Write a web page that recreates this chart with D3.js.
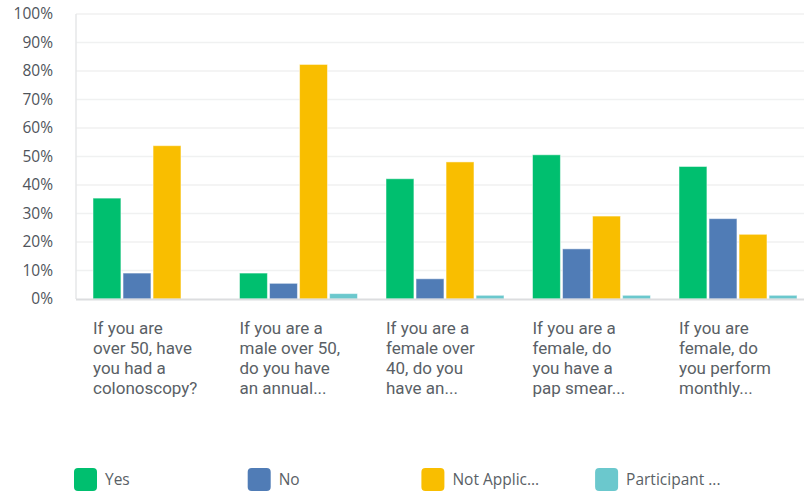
<!DOCTYPE html>
<html>
<head>
<meta charset="utf-8">
<script src="https://cdn.jsdelivr.net/npm/d3@7"></script>
<style>
  html, body { margin: 0; padding: 0; background: #fff; }
  svg { display: block; font-family: "Open Sans", sans-serif; }
</style>
</head>
<body>
<svg id="chart" width="804" height="494"></svg>
<script>
const categories = [
  ["If you are", "over 50, have", "you had a", "colonoscopy?"],
  ["If you are a", "male over 50,", "do you have", "an annual..."],
  ["If you are a", "female over", "40, do you", "have an..."],
  ["If you are a", "female, do", "you have a", "pap smear..."],
  ["If you are", "female, do", "you perform", "monthly..."]
];
const seriesNames = ["Yes", "No", "Not Applic...", "Participant ..."];
const yesValues = [35.4, 9.1, 42.2, 50.6, 46.5];
const noValues = [9.1, 5.5, 7.1, 17.6, 28.2];
const naValues = [53.8, 82.3, 48.1, 29.1, 22.7];
const participantValues = [0, 1.9, 1.3, 1.3, 1.3];
const yTicks = [0, 10, 20, 30, 40, 50, 60, 70, 80, 90, 100];
const colors = ["#00BF6F", "#507CB6", "#F9BE00", "#6BC8CD"];

const seriesValues = [yesValues, noValues, naValues, participantValues];

const svg = d3.select("#chart");
const plotLeft = 76, plotTop = 14, plotBottom = 299, plotRight = 804;

const x0 = d3.scaleBand()
  .domain(d3.range(categories.length))
  .range([plotLeft, plotLeft + 5 * 146.5])
  .paddingInner(0).paddingOuter(0);

const x1 = d3.scaleBand()
  .domain(d3.range(seriesNames.length))
  .range([17, 17 + 4 * 29.5])
  .paddingInner(0.07).paddingOuter(0);

const y = d3.scaleLinear().domain([0, 100]).range([plotBottom, plotTop]);

// gridlines
svg.append("g").selectAll("line")
  .data(yTicks.filter(d => d > 0))
  .join("line")
  .attr("x1", plotLeft).attr("x2", plotRight)
  .attr("y1", d => y(d)).attr("y2", d => y(d))
  .attr("stroke", "#f0f1f1").attr("stroke-width", 1.5);

// y axis labels
const yAxis = d3.axisLeft(y).tickValues(yTicks).tickFormat(d => d + "%").tickSize(0).tickPadding(0);
const yG = svg.append("g").attr("transform", `translate(53,0)`).call(yAxis);
yG.select(".domain").remove();
yG.selectAll("text")
  .attr("fill", "#4f545b")
  .attr("font-size", "15.5px")
  .attr("font-family", "Open Sans, sans-serif");

// left axis line
svg.append("line")
  .attr("x1", plotLeft).attr("x2", plotLeft)
  .attr("y1", plotTop).attr("y2", plotBottom)
  .attr("stroke", "#e6e7e8").attr("stroke-width", 1.5);

// bars
const groups = svg.append("g").selectAll("g")
  .data(categories.map((c, i) => i))
  .join("g")
  .attr("transform", i => `translate(${x0(i)},0)`);

groups.selectAll("rect")
  .data(i => seriesValues.map((vals, s) => ({ s, v: vals[i] })))
  .join("rect")
  .filter(d => d.v > 0)
  .attr("x", d => x1(d.s))
  .attr("width", x1.bandwidth())
  .attr("y", d => y(d.v))
  .attr("height", d => y(0) - y(d.v))
  .attr("fill", d => colors[d.s])
  .attr("stroke", "#ffffff")
  .attr("stroke-opacity", 0.5)
  .attr("stroke-width", 1);

// baseline
svg.append("line")
  .attr("x1", plotLeft).attr("x2", plotRight)
  .attr("y1", plotBottom + 0.5).attr("y2", plotBottom + 0.5)
  .attr("stroke", "#dcdddf").attr("stroke-width", 2);

// category labels (one text per line)
const labelGroups = svg.append("g").selectAll("g")
  .data(categories.map((c, i) => i))
  .join("g")
  .attr("transform", i => `translate(${x0(i) + 17},334)`);
labelGroups.selectAll("text")
  .data(i => categories[i])
  .join("text")
  .attr("x", 0)
  .attr("y", (d, j) => j * 20)
  .attr("fill", "#5a5f66")
  .attr("font-size", "17px")
  .attr("font-family", "Roboto, sans-serif")
  .text(d => d);

// legend
const legend = svg.append("g").selectAll("g")
  .data(seriesNames)
  .join("g")
  .attr("transform", (d, i) => `translate(${74 + i * 173.7},468)`);
legend.append("rect")
  .attr("width", 23).attr("height", 23)
  .attr("rx", 4).attr("ry", 4)
  .attr("fill", (d, i) => colors[i]);
legend.append("text")
  .attr("x", 31).attr("y", 12)
  .attr("dy", "0.35em")
  .attr("fill", "#5a5f66")
  .attr("font-size", "15.5px")
  .text(d => d);
</script>
</body>
</html>
